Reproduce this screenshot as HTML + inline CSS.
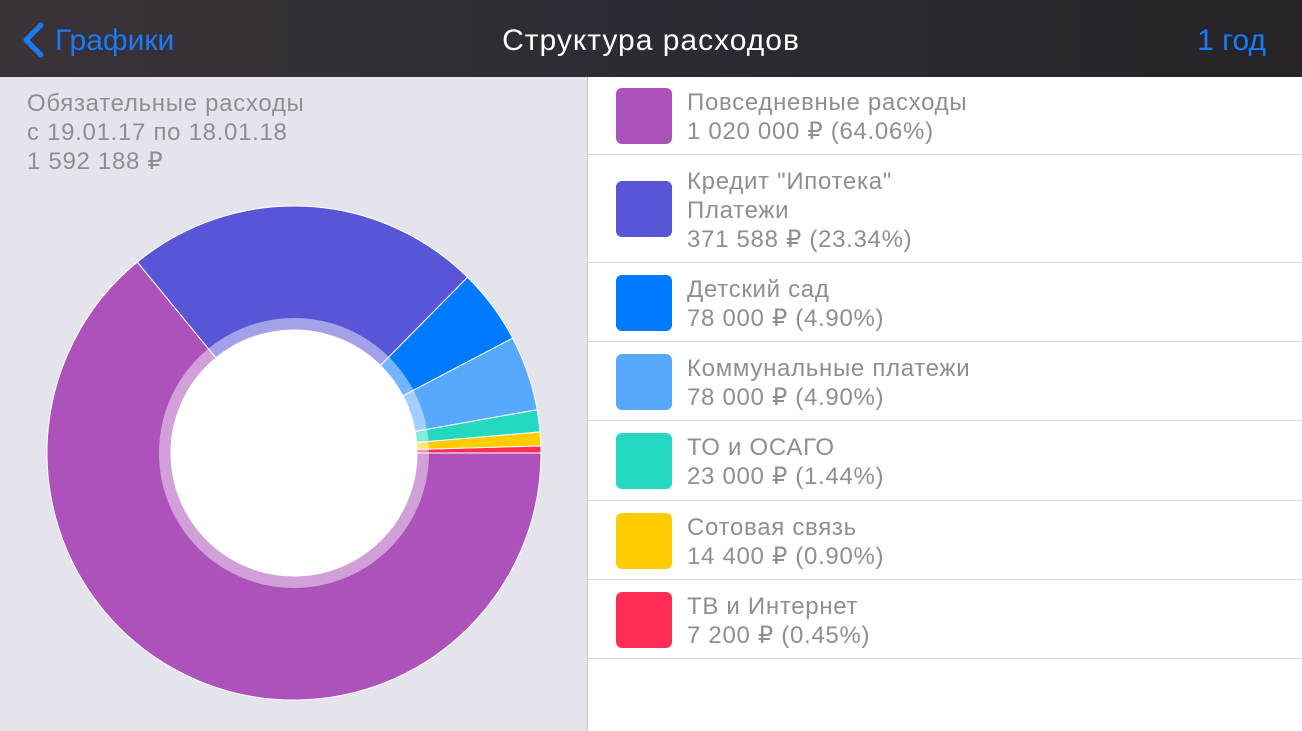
<!DOCTYPE html>
<html><head><meta charset="utf-8"><style>
body{margin:0;width:1302px;height:731px;overflow:hidden;font-family:"Liberation Sans","DejaVu Sans",sans-serif;background:#fff;position:relative}
#hdr{position:absolute;left:0;top:0;width:1302px;height:77px;background:linear-gradient(90deg,#3a3338,#2e2a33 50%,#262428);}
.t{position:absolute;white-space:nowrap}
#left{position:absolute;left:0;top:77px;width:587px;height:654px;background:#e5e4ed;border-right:1px solid #c8c7cc}
.g{color:#8e8e93;font-size:24px;line-height:29px;letter-spacing:0.7px}
.row{position:absolute;left:588px;width:714px;border-bottom:1px solid #d6d6da}
.sw{position:absolute;left:28px;width:56px;height:56px;border-radius:6px}
.row .g{position:absolute;left:99px}
</style></head><body>
<div id="hdr">
<svg class="t" style="left:20px;top:22px" width="26" height="36"><path d="M21 3 L6 18 L21 33" stroke="#1a7cf5" stroke-width="5" fill="none" stroke-linecap="round" stroke-linejoin="round"/></svg>
<div class="t" style="left:55px;top:24px;font-size:30px;color:#1a7cf5">Графики</div>
<div class="t" style="left:0;width:1302px;text-align:center;top:24px;font-size:30px;color:#fff;letter-spacing:1px;font-weight:500">Структура расходов</div>
<div class="t" style="right:36px;top:24px;font-size:30px;color:#1a7cf5">1 год</div>
</div>
<div id="left">
<div class="t g" style="left:27px;top:12px">Обязательные расходы<br>с 19.01.17 по 18.01.18<br>1 592 188 ₽</div>
<svg id="pie" style="position:absolute;left:0;top:0" width="587" height="654"></svg>
</div>
<div id="legend"></div>
<script>
const labels=["Повседневные расходы","Кредит \"Ипотека\"<br>Платежи","Детский сад","Коммунальные платежи","ТО и ОСАГО","Сотовая связь","ТВ и Интернет"];
const values=[1020000,371588,78000,78000,23000,14400,7200];
const valueText=["1 020 000 ₽ (64.06%)","371 588 ₽ (23.34%)","78 000 ₽ (4.90%)","78 000 ₽ (4.90%)","23 000 ₽ (1.44%)","14 400 ₽ (0.90%)","7 200 ₽ (0.45%)"];
const colors=["#ad52bb","#5856d6","#007aff","#57a8ff","#24d8c2","#ffcc00","#ff2d55"];
const svg=document.getElementById('pie');const NS="http://www.w3.org/2000/svg";
const cx=294,cy=376,R=247,r=123;
const total=values.reduce((a,b)=>a+b,0);
let a0=0;
function pt(a,rad){return [cx+rad*Math.cos(a),cy+rad*Math.sin(a)];}
values.forEach((v,i)=>{
 const a1=a0+v/total*2*Math.PI;const big=(a1-a0)>Math.PI?1:0;
 const p=document.createElementNS(NS,'path');
 const [x0,y0]=pt(a0,R),[x1,y1]=pt(a1,R),[x2,y2]=pt(a1,r),[x3,y3]=pt(a0,r);
 p.setAttribute('d',`M${x0} ${y0}A${R} ${R} 0 ${big} 1 ${x1} ${y1}L${x2} ${y2}A${r} ${r} 0 ${big} 0 ${x3} ${y3}Z`);
 p.setAttribute('fill',colors[i]);p.setAttribute('stroke','#fff');p.setAttribute('stroke-width','1');
 
 
 svg.appendChild(p);a0=a1;
});
const ring=document.createElementNS(NS,'circle');
ring.setAttribute('cx',cx);ring.setAttribute('cy',cy);ring.setAttribute('r',129);
ring.setAttribute('fill','none');ring.setAttribute('stroke','rgba(255,255,255,0.45)');ring.setAttribute('stroke-width','12');


svg.appendChild(ring);
const hole=document.createElementNS(NS,'circle');
hole.setAttribute('cx',cx);hole.setAttribute('cy',cy);hole.setAttribute('r',123);hole.setAttribute('fill','#fff');


svg.appendChild(hole);
const lg=document.getElementById('legend');
const tops=[77,155,263,342,421,501,580],hs=[78,108,79,79,80,79,79];
labels.forEach((l,i)=>{
 const d=document.createElement('div');d.className='row';d.style.top=tops[i]+'px';d.style.height=(hs[i]-1)+'px';
 
 
 const lines=l.split('<br>').length+1;const th=lines*29;
 d.innerHTML=`<div class="sw" style="background:${colors[i]};top:${(hs[i]-56)/2}px"></div><div class="g" style="top:${(hs[i]-th)/2+1}px">${l}<br>${valueText[i]}</div>`;
 lg.appendChild(d);
});
</script>
</body></html>
